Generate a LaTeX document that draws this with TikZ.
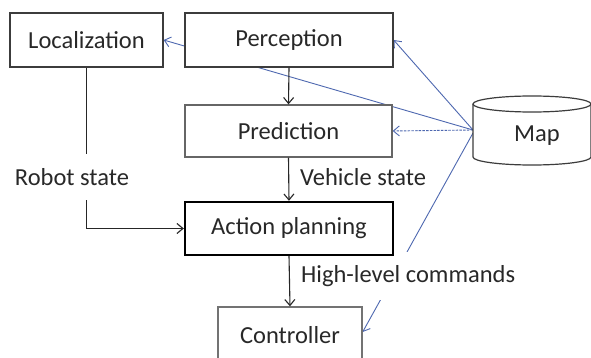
\documentclass[tikz,border=0pt]{standalone}
\usepackage{fontspec}
\setmainfont{Carlito}
\usetikzlibrary{arrows.meta,backgrounds}
\definecolor{mapblue}{RGB}{78,104,176}
\definecolor{boxgray}{RGB}{60,60,60}
\definecolor{txtgray}{RGB}{40,40,40}
\tikzset{
  block/.style={draw=boxgray, line width=1.3pt, fill=white, rectangle,
    inner sep=0pt, text=txtgray, font=\fontsize{24.5}{28}\selectfont},
  flow/.style={draw=black!85, line width=1.1pt,
    -{Straight Barb[length=6pt,width=10pt,line width=1.1pt]}},
  mapflow/.style={draw=mapblue, line width=0.9pt,
    -{Straight Barb[length=6pt,width=10pt,line width=0.9pt]}},
  lbl/.style={text=txtgray, font=\fontsize{24.5}{28}\selectfont, inner sep=0pt}
}
\begin{document}
\begin{tikzpicture}[x=1pt,y=-1pt]
  \clip (0,0) rectangle (591,358);

  % signal labels (placed first so the block borders stay on top of their white backing)
  \node[lbl, fill=white, inner xsep=2pt, inner ysep=14pt] (robot) at (72,177) {Robot state};
  \node[lbl, anchor=west] (veh) at (300,177) {Vehicle state};
  \node[lbl, anchor=west, fill=white, inner xsep=2pt, inner ysep=13pt] (hlc) at (299,276) {High-level commands};

  % processing blocks
  \node[block, minimum width=153pt, minimum height=54pt] (loc)  at (86.5,40)  {Localization};
  \node[block, minimum width=208pt, minimum height=54pt] (perc) at (289,40)   {Perception};
  \node[block, draw=black!60, minimum width=207pt, minimum height=52pt] (pred) at (288.5,131) {Prediction};
  \node[block, draw=black, line width=2.4pt, minimum width=208pt, minimum height=53pt] (act) at (289,228.5) {Action planning};
  \node[block, draw=black!55, minimum width=144pt, minimum height=66pt] (ctrl) at (290,340) {};
  \node[lbl] (ctrltxt) at (290,335) {Controller};

  % map store drawn as a cylinder
  \fill[white] (473,104) -- (473,157) arc[start angle=180,end angle=0,x radius=59,y radius=8] -- (591,104) -- cycle;
  \draw[boxgray, line width=1.2pt] (473,104) -- (473,157) arc[start angle=180,end angle=0,x radius=59,y radius=8] -- (591,104);
  \draw[boxgray, line width=1.2pt, fill=white] (532,104) ellipse[x radius=59, y radius=8];
  \node[lbl] (map) at (537,136) {Map};
  \coordinate (mapL) at (473,130);

  % connectors running behind the blocks
  \begin{scope}[on background layer]
    \fill[white] (0,0) rectangle (591,358);
    \draw[mapflow] (mapL) -- (loc.east);
    \draw[mapflow] (mapL) -- (perc.east);
    \draw[mapflow, dash pattern=on 2.5pt off 1.2pt] (mapL) -- (pred.east);
    \draw[mapflow] ([yshift=-3pt]mapL) -- ([yshift=8pt]ctrl.east);
    \draw[flow] (loc.south) |- (act.west);
  \end{scope}
  \draw[flow] (perc.south) -- (pred.north);
  \draw[flow] (pred.south) -- (act.north);
  \draw[flow] (act.south) -- (ctrl.north);
\end{tikzpicture}
\end{document}
